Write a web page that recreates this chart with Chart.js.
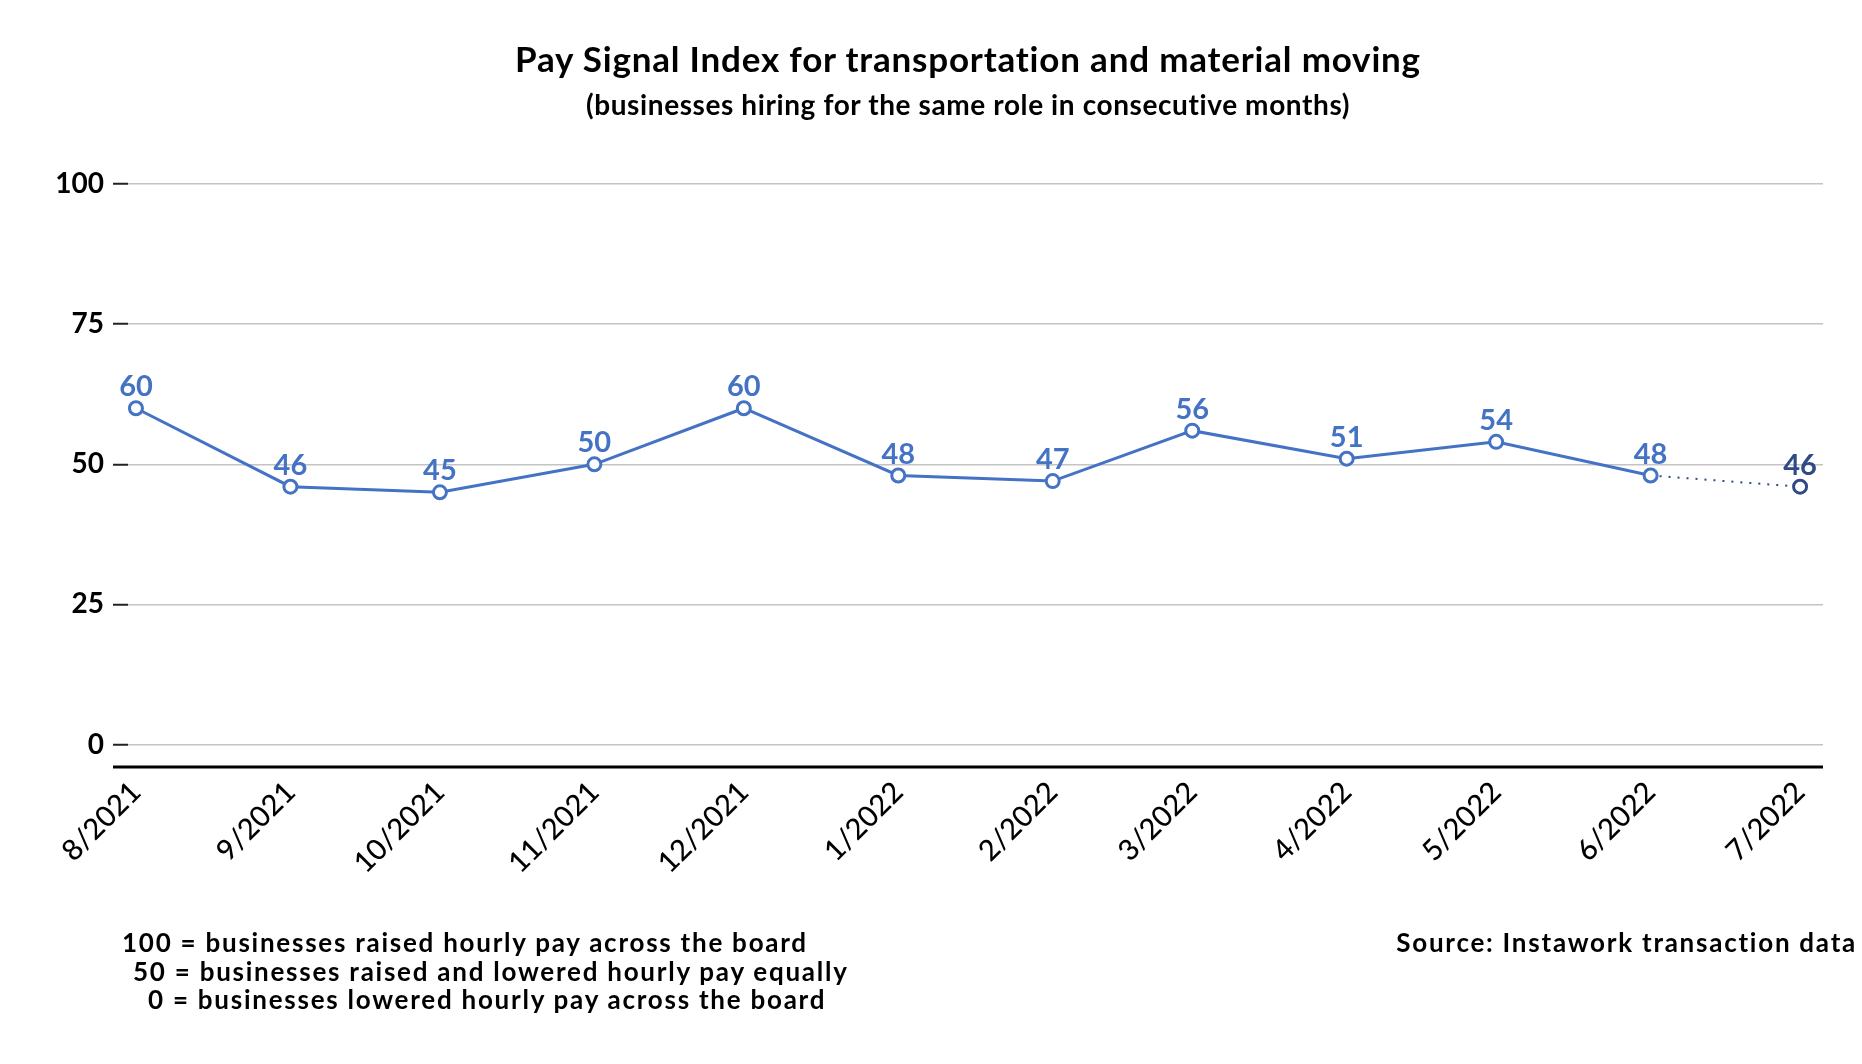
<!DOCTYPE html>
<html>
<head>
<meta charset="utf-8">
<script src="https://cdn.jsdelivr.net/npm/chart.js@4"></script>
<style>
  html, body { margin: 0; padding: 0; background: #fff; }
  #wrap { position: relative; width: 1862px; height: 1064px; }
  #c { position: absolute; left: 0; top: 0; }
  .t { position: absolute; white-space: nowrap; font-family: Lato, "Open Sans", sans-serif; font-weight: 700; color: #000; line-height: 1; }
  .fn { font-size: 26px; letter-spacing: 1.75px; }
</style>
</head>
<body>
<div id="wrap">
  <canvas id="c" width="1862" height="1064"></canvas>
  <div class="t" id="title" style="left:968px; top:41px; font-size:35px; letter-spacing:0.8px; transform:translateX(-50%);">Pay Signal Index for transportation and material moving</div>
  <div class="t" id="sub" style="left:968px; top:90px; font-size:28px; letter-spacing:0.6px; transform:translateX(-50%);">(businesses hiring for the same role in consecutive months)</div>
  <div class="t fn" style="left:122px; top:929px;">100 = businesses raised hourly pay across the board</div>
  <div class="t fn" style="left:133px; top:958px;">50 = businesses raised and lowered hourly pay equally</div>
  <div class="t fn" style="left:148px; top:986px;">0 = businesses lowered hourly pay across the board</div>
  <div class="t fn" style="right:5px; top:929px;">Source: Instawork transaction data</div>
</div>
<script>
// ---- data ----
const monthLabels = ["8/2021","9/2021","10/2021","11/2021","12/2021","1/2022","2/2022","3/2022","4/2022","5/2022","6/2022","7/2022"];
const payIndex = [60, 46, 45, 50, 60, 48, 47, 56, 51, 54, 48, 46];
const yTickValues = [0, 25, 50, 75, 100];

// ---- styling ----
const BLUE = "#4472C4";
const DARK = "#2F4A85";
const FONT = "Lato, 'Open Sans', sans-serif";

// x position = days since the first month (time-proportional axis)
function monthStart(lbl) {
  const [m, y] = lbl.split("/").map(Number);
  return Date.UTC(y, m - 1, 1);
}
const t0 = monthStart(monthLabels[0]);
const xDays = monthLabels.map(l => Math.round((monthStart(l) - t0) / 86400000));
const points = xDays.map((d, i) => ({ x: d, y: payIndex[i] }));
const lastIdx = payIndex.length - 1;

const labelPlugin = {
  id: "valueLabels",
  afterDatasetsDraw(chart) {
    const ctx = chart.ctx;
    const meta = chart.getDatasetMeta(0);
    ctx.save();
    ctx.font = "700 29px " + FONT;
    ctx.textAlign = "center";
    ctx.textBaseline = "alphabetic";
    meta.data.forEach((pt, i) => {
      ctx.fillStyle = i === lastIdx ? DARK : BLUE;
      ctx.fillText(String(payIndex[i]), pt.x, pt.y - 12);
    });
    ctx.restore();
  }
};

const axisExtend = {
  id: "axisExtend",
  afterDraw(chart) {
    const ctx = chart.ctx;
    const a = chart.chartArea;
    ctx.save();
    ctx.strokeStyle = "#000";
    ctx.lineWidth = 3;
    ctx.beginPath();
    ctx.moveTo(113, a.bottom);
    ctx.lineTo(a.right, a.bottom);
    ctx.stroke();
    ctx.restore();
  }
};

new Chart(document.getElementById("c"), {
  type: "line",
  data: {
    datasets: [{
      data: points,
      borderColor: BLUE,
      borderWidth: 3,
      pointRadius: 6.5,
      pointHoverRadius: 6.5,
      pointBorderWidth: 3,
      pointBackgroundColor: "#fff",
      pointBorderColor: payIndex.map((v, i) => i === lastIdx ? DARK : BLUE),
      tension: 0,
      segment: {
        borderColor: c => c.p1DataIndex === lastIdx ? DARK : BLUE,
        borderDash: c => c.p1DataIndex === lastIdx ? [2, 7] : [],
        borderWidth: c => c.p1DataIndex === lastIdx ? 2 : 3
      }
    }]
  },
  options: {
    responsive: false,
    animation: false,
    events: [],
    layout: { padding: { top: 184, left: 0, right: 39, bottom: 0 } },
    plugins: { legend: { display: false }, tooltip: { enabled: false }, title: { display: false } },
    scales: {
      x: {
        type: "linear",
        min: -1.6,
        max: 338.6,
        afterBuildTicks: s => { s.ticks = xDays.map(v => ({ value: v })); },
        afterFit: s => { s.height = 1064 - 767; },
        grid: { display: false },
        border: { display: false },
        ticks: {
          autoSkip: false,
          minRotation: 45,
          maxRotation: 45,
          padding: 0,
          color: "#000",
          font: { family: FONT, size: 29, weight: "500" },
          callback: (v, i) => monthLabels[i]
        }
      },
      y: {
        min: -4,
        max: 100,
        afterBuildTicks: s => { s.ticks = yTickValues.map(v => ({ value: v })); },
        afterFit: s => { s.width = 128; },
        grid: { color: "#c4c4c4", lineWidth: 1.5, tickColor: "#222", tickLength: 15, tickWidth: 2 },
        border: { display: false },
        ticks: {
          padding: 9,
          color: "#000",
          font: { family: FONT, size: 28, weight: "700" }
        }
      }
    }
  },
  plugins: [labelPlugin, axisExtend]
});
</script>
</body>
</html>
